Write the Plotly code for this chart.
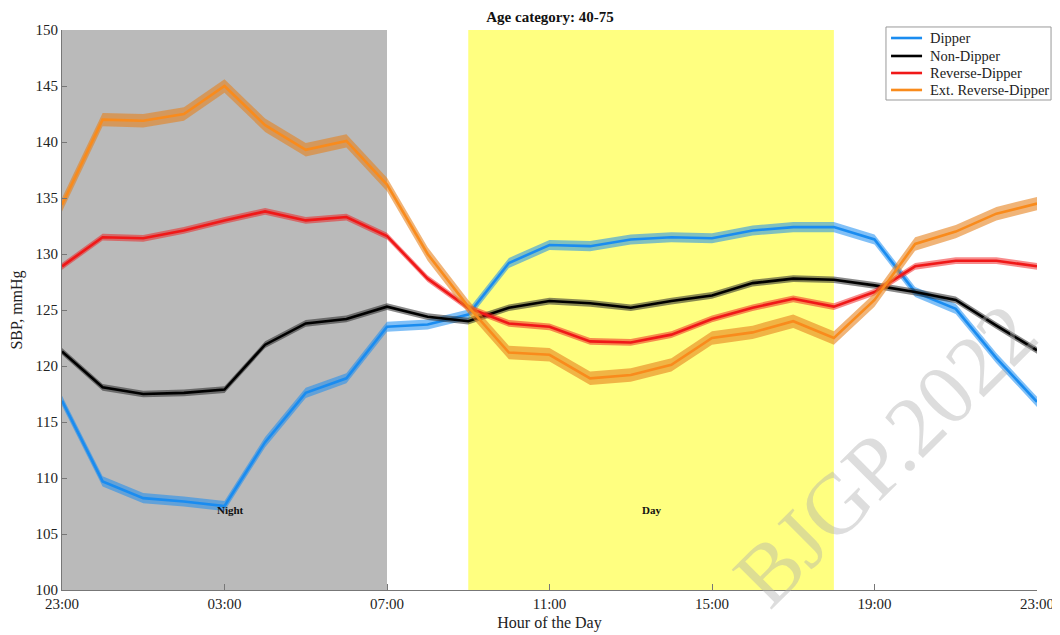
import plotly.graph_objects as go

hours = list(range(25))
tick_hours = [0, 4, 8, 12, 16, 20, 24]
tick_labels = ["23:00", "03:00", "07:00", "11:00", "15:00", "19:00", "23:00"]

dipper = [116.9, 109.7, 108.2, 107.9, 107.5, 113.2, 117.6, 118.9, 123.5, 123.7,
          124.6, 129.2, 130.8, 130.7, 131.3, 131.5, 131.4, 132.1, 132.4, 132.4,
          131.3, 126.6, 125.1, 120.7, 116.8]
non_dipper = [121.3, 118.1, 117.5, 117.6, 117.9, 121.9, 123.8, 124.2, 125.3, 124.4,
              124.0, 125.2, 125.8, 125.6, 125.2, 125.8, 126.3, 127.4, 127.8, 127.7,
              127.2, 126.6, 125.9, 123.6, 121.4]
reverse_dipper = [128.9, 131.5, 131.4, 132.1, 133.0, 133.8, 133.0, 133.3, 131.6, 127.8,
                  125.2, 123.8, 123.5, 122.2, 122.1, 122.8, 124.2, 125.2, 126.0, 125.3,
                  126.6, 128.9, 129.4, 129.4, 128.9]
ext_reverse_dipper = [134.4, 142.0, 141.9, 142.5, 145.0, 141.5, 139.3, 140.1, 136.2, 130.0,
                      125.3, 121.2, 121.0, 118.9, 119.2, 120.1, 122.5, 123.0, 124.0, 122.5,
                      125.9, 130.9, 132.0, 133.6, 134.5]

series = [
    ("Dipper", dipper, 0.45, "#1a8cf0", "rgba(26,140,240,0.55)"),
    ("Non-Dipper", non_dipper, 0.3, "#000000", "rgba(40,40,40,0.55)"),
    ("Reverse-Dipper", reverse_dipper, 0.3, "#f01818", "rgba(240,24,24,0.5)"),
    ("Ext. Reverse-Dipper", ext_reverse_dipper, 0.6, "#f98b1c", "rgba(230,130,30,0.6)"),
]

fig = go.Figure()
font_family = "Liberation Serif, Times New Roman, serif"

for name, vals, ci, col, band in series:
    upper = [v + ci for v in vals]
    lower = [v - ci for v in vals]
    fig.add_trace(go.Scatter(
        x=hours + hours[::-1], y=upper + lower[::-1], fill="toself",
        fillcolor=band, line=dict(width=0), mode="lines",
        showlegend=False, hoverinfo="skip"))
    fig.add_trace(go.Scatter(
        x=hours, y=vals, mode="lines", name=name, showlegend=False,
        line=dict(color=col, width=2.6)))

fig.add_shape(type="rect", x0=0, x1=8, y0=100, y1=150, xref="x", yref="y",
              fillcolor="#bababa", line=dict(width=0), layer="below")
fig.add_shape(type="rect", x0=10, x1=19, y0=100, y1=150, xref="x", yref="y",
              fillcolor="#ffff80", line=dict(width=0), layer="below")

fig.add_annotation(x=4.15, y=107.15, text="<b>Night</b>", showarrow=False, xref="x", yref="y",
                   font=dict(family=font_family, size=11, color="#111111"))
fig.add_annotation(x=14.5, y=107.15, text="<b>Day</b>", showarrow=False, xref="x", yref="y",
                   font=dict(family=font_family, size=11, color="#111111"))

# watermark (page centre ~ (885, 455))
fig.add_annotation(x=(885 - 62) / 975, y=(590 - 455) / 560, xref="paper", yref="paper",
                   text="BJGP.2022", showarrow=False, textangle=-45,
                   xanchor="center", yanchor="middle",
                   font=dict(family=font_family, size=86, color="rgba(175,175,175,0.42)"))

# manual legend (box, line samples, labels)
fig.add_shape(type="rect", xref="paper", yref="paper", x0=0.8451, x1=1.0144,
              y0=0.875, y1=1.0054, fillcolor="white", line=dict(color="#999999", width=1),
              layer="above")
row_y = [0.9857, 0.9536, 0.9232, 0.8929]
for (name, vals, ci, col, band), ry in zip(series, row_y):
    fig.add_shape(type="line", xref="paper", yref="paper", x0=0.8503, x1=0.8821,
                  y0=ry, y1=ry, line=dict(color=col, width=2.6), layer="above")
    fig.add_annotation(x=0.8882, y=ry, xref="paper", yref="paper", text=name,
                       showarrow=False, xanchor="left", yanchor="middle",
                       font=dict(family=font_family, size=14.5, color="#222222"))

fig.update_layout(
    width=1052, height=627,
    margin=dict(l=54, r=23, t=22, b=45, autoexpand=False),
    plot_bgcolor="white", paper_bgcolor="white",
    font=dict(family=font_family, size=15, color="#222222"),
    title=dict(text="<b>Age category: 40-75</b>", x=(550 - 8) / 1052, xanchor="center",
               xref="container", yref="container",
               y=1 - 9 / 627, yanchor="middle",
               font=dict(family=font_family, size=15, color="#111111")),
    showlegend=False,
)

fig.update_xaxes(range=[0, 24], tickvals=tick_hours, ticktext=tick_labels,
                 showgrid=False, zeroline=False, showline=True, linecolor="#777777",
                 ticks="inside", ticklen=6, tickcolor="#777777", automargin=False,
                 title=dict(text="Hour of the Day", standoff=5,
                            font=dict(family=font_family, size=16)),
                 tickfont=dict(family=font_family, size=15))
fig.update_yaxes(range=[100, 150], dtick=5, showgrid=False, zeroline=False,
                 showline=True, linecolor="#777777", automargin=False,
                 ticks="inside", ticklen=5, tickcolor="#777777",
                 title=dict(text="SBP, mmHg", standoff=8,
                            font=dict(family=font_family, size=16)),
                 tickfont=dict(family=font_family, size=15))

fig.write_html("out.html")
